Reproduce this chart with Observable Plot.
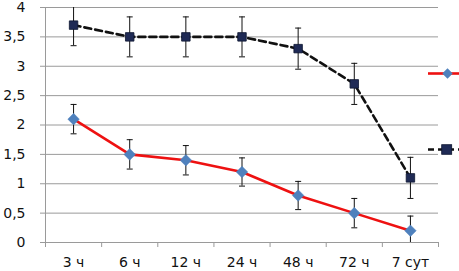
<!DOCTYPE html>
<html>
<head>
<meta charset="utf-8">
<script src="https://cdn.jsdelivr.net/npm/d3@7"></script>
<script src="https://cdn.jsdelivr.net/npm/@observablehq/plot@0.6"></script>
<style>
  html, body { margin: 0; padding: 0; background: #fff; }
  #wrap { position: relative; width: 459px; height: 271px; overflow: hidden; }
  #legend { position: absolute; left: 0; top: 0; pointer-events: none; }
</style>
</head>
<body>
<div id="wrap"></div>
<script>
const categories = ["3 ч", "6 ч", "12 ч", "24 ч", "48 ч", "72 ч", "7 сут"];
const seriesA = [2.1, 1.5, 1.4, 1.2, 0.8, 0.5, 0.2];
const errorsA = [0.25, 0.25, 0.25, 0.24, 0.24, 0.25, 0.25];
const seriesB = [3.7, 3.5, 3.5, 3.5, 3.3, 2.7, 1.1];
const errorsB = [0.35, 0.34, 0.34, 0.34, 0.35, 0.35, 0.35];
const yTicks = [0, 0.5, 1, 1.5, 2, 2.5, 3, 3.5, 4];

const rowsA = categories.map((c, i) => ({i, v: seriesA[i], e: errorsA[i]}));
const rowsB = categories.map((c, i) => ({i, v: seriesB[i], e: errorsB[i]}));
const idx = categories.map((c, i) => i);
const bounds = [...idx.map(i => i - 0.5), categories.length - 0.5];

const capSymbol = {
  draw(ctx, size) {
    ctx.moveTo(-3, 0);
    ctx.lineTo(3, 0);
  }
};

const fmt = d => String(d).replace(".", ",");
const grid = "#9a9a9a";
const font = "'DejaVu Sans', sans-serif";

const errMarks = (rows) => [
  Plot.ruleX(rows, {x: "i", y1: d => d.v - d.e, y2: d => d.v + d.e, stroke: "#111", strokeWidth: 1, clip: true}),
  Plot.dot(rows, {x: "i", y: d => d.v + d.e, symbol: capSymbol, r: 3, stroke: "#111", strokeWidth: 1, fill: "none", clip: true}),
  Plot.dot(rows, {x: "i", y: d => d.v - d.e, symbol: capSymbol, r: 3, stroke: "#111", strokeWidth: 1, fill: "none", clip: true})
];

const chart = Plot.plot({
  width: 459,
  height: 271,
  marginLeft: 45,
  marginRight: 21,
  marginTop: 7,
  marginBottom: 29,
  style: {fontFamily: font, fontSize: "14px", color: "#111", background: "#fff"},
  x: {type: "linear", domain: [-0.5, categories.length - 0.5]},
  y: {domain: [0, 4]},
  marks: [
    Plot.gridY(yTicks, {stroke: grid, strokeOpacity: 1, strokeWidth: 1}),
    Plot.ruleX([-0.5], {stroke: grid, strokeWidth: 1}),
    Plot.axisY({ticks: yTicks, tickFormat: fmt, tickSize: 5, tickPadding: 15, stroke: grid, fill: "#111", fontSize: 14, label: null}),
    Plot.axisX({ticks: idx, tickFormat: i => categories[i], tickSize: 0, tickPadding: 15, fill: "#111", fontSize: 14, label: null}),
    Plot.axisX({ticks: bounds, tickFormat: () => "", tickSize: 5, stroke: grid, label: null}),
    Plot.ruleY([0], {stroke: grid, strokeWidth: 1}),
    ...errMarks(rowsA),
    ...errMarks(rowsB),
    Plot.line(rowsA, {x: "i", y: "v", stroke: "#ee1111", strokeWidth: 2.6}),
    Plot.line(rowsB, {x: "i", y: "v", stroke: "#111", strokeWidth: 2.6, strokeDasharray: "7,4"}),
    Plot.dot(rowsA, {x: "i", y: "v", symbol: "diamond2", r: 5.2, fill: "#4f81bd", stroke: "#4f81bd", strokeWidth: 0.5}),
    Plot.dot(rowsB, {x: "i", y: "v", symbol: "square2", r: 5.4, fill: "#1f2a55", stroke: "#0d1530", strokeWidth: 0.8})
  ]
});

const wrap = document.getElementById("wrap");
wrap.appendChild(chart);

// legend (labels are cut off in the reference)
const ns = "http://www.w3.org/2000/svg";
const leg = document.createElementNS(ns, "svg");
leg.setAttribute("id", "legend");
leg.setAttribute("width", 459);
leg.setAttribute("height", 271);
leg.innerHTML = `
  <line x1="428" y1="73.5" x2="459" y2="73.5" stroke="#ee1111" stroke-width="2.6"/>
  <path d="M447.5,68.3 L452.7,73.5 L447.5,78.7 L442.3,73.5 Z" fill="#4f81bd"/>
  <line x1="428" y1="149.5" x2="459" y2="149.5" stroke="#111" stroke-width="2.6" stroke-dasharray="6,4"/>
  <rect x="441.7" y="144.7" width="10" height="9.6" fill="#1f2a55" stroke="#0d1530" stroke-width="0.8"/>
`;
wrap.appendChild(leg);
</script>
</body>
</html>
